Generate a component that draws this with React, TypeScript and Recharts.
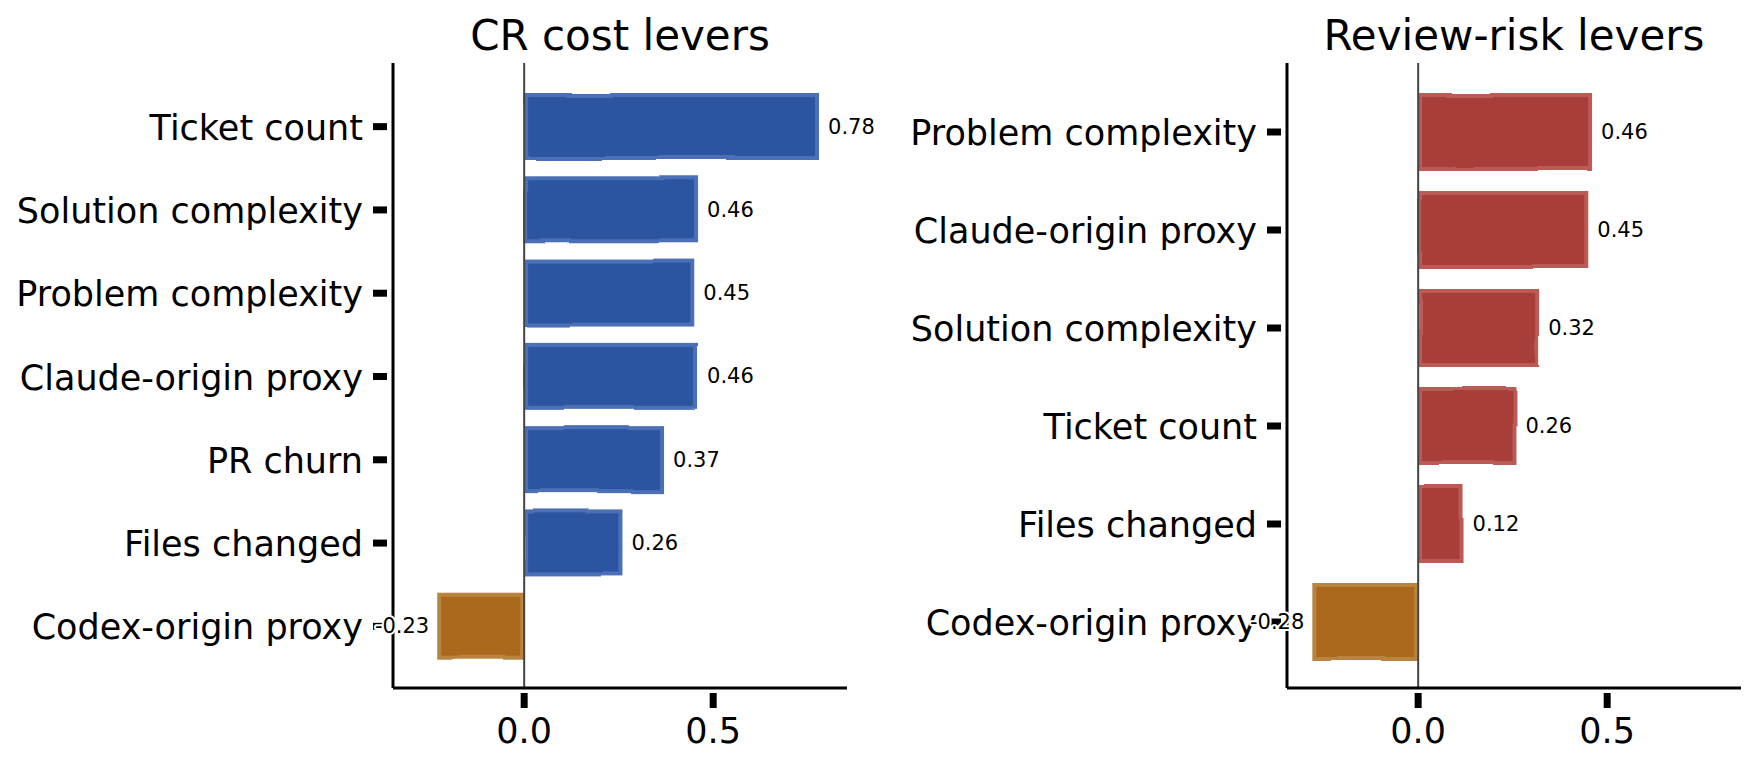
import { BarChart, Bar, XAxis, YAxis, ReferenceLine, LabelList, Cell } from 'recharts';

// Two horizontal bar panels: effect size of each lever (xkcd-like look)

const costLevers = [
  'Ticket count',
  'Solution complexity',
  'Problem complexity',
  'Claude-origin proxy',
  'PR churn',
  'Files changed',
  'Codex-origin proxy',
];
const costValues = [0.78, 0.46, 0.45, 0.46, 0.37, 0.26, -0.23];

const riskLevers = [
  'Problem complexity',
  'Claude-origin proxy',
  'Solution complexity',
  'Ticket count',
  'Files changed',
  'Codex-origin proxy',
];
const riskValues = [0.46, 0.45, 0.32, 0.26, 0.12, -0.28];

const xTicks = [0, 0.5];
const xDomain = [-0.347, 0.854];

const FONT = '"DejaVu Sans", Verdana, sans-serif';
const NEG = '#A9681C';
const NEG_EDGE = '#B9843F';

// white halo round every text, like matplotlib's xkcd mode
const halo = { stroke: '#fff', strokeWidth: 4, paintOrder: 'stroke' as const, strokeLinejoin: 'round' as const };

function YTick({ x, y, payload }: any) {
  return (
    <g>
      <line x1={x - 20} x2={x - 6} y1={y} y2={y} stroke="#000" strokeWidth={7} />
      <text x={x - 30} y={y} dy={13} textAnchor="end" fontSize={35} fontFamily={FONT} fill="#000" {...halo}>
        {payload.value}
      </text>
    </g>
  );
}

function XTick({ x, y, payload }: any) {
  return (
    <g>
      <line x1={x} x2={x} y1={y + 5} y2={y + 20} stroke="#000" strokeWidth={7} />
      <text x={x} y={y + 55} textAnchor="middle" fontSize={35} fontFamily={FONT} fill="#000" {...halo}>
        {Number(payload.value).toFixed(1)}
      </text>
    </g>
  );
}

function ValueLabel({ x, y, width, height, value }: any) {
  const left = Math.min(x, x + width);
  const right = Math.max(x, x + width);
  const neg = value < 0;
  return (
    <text
      x={neg ? left - 8 : right + 9}
      y={y + height / 2}
      dy={7}
      textAnchor={neg ? 'end' : 'start'}
      fontSize={21}
      fontFamily={FONT}
      fill="#000"
      {...halo}
    >
      {value.toFixed(2)}
    </text>
  );
}

interface PanelProps {
  id: string;
  title: string;
  names: string[];
  values: number[];
  color: string;
  edge: string;
  left: number;
  width: number;
  axisWidth: number;
  marginRight: number;
  padTop: number;
  padBottom: number;
  barSize: number;
}

function Panel(p: PanelProps) {
  const data = p.names.map((name, i) => ({ name, value: p.values[i] }));
  const plotW = p.width - p.axisWidth - p.marginRight;

  const BarShape = (props: any) => {
    const { x, y, width, height, payload } = props;
    const neg = payload.value < 0;
    const bx = Math.min(x, x + width);
    const bw = Math.abs(width);
    return (
      <rect
        x={bx + 2}
        y={y + 2}
        width={Math.max(bw - 4, 0)}
        height={height - 4}
        fill={neg ? NEG : p.color}
        stroke={neg ? NEG_EDGE : p.edge}
        strokeWidth={4}
        filter={`url(#wob-${p.id})`}
      />
    );
  };

  return (
    <div style={{ position: 'absolute', left: p.left, top: 0 }}>
      <BarChart
        width={p.width}
        height={770}
        data={data}
        layout="vertical"
        margin={{ top: 63, right: p.marginRight, bottom: 22, left: 0 }}
      >
        <defs>
          <filter id={`wob-${p.id}`} filterUnits="userSpaceOnUse" x={0} y={0} width={p.width} height={770}
            colorInterpolationFilters="sRGB">
            <feTurbulence type="fractalNoise" baseFrequency="0.011" numOctaves={1} seed={5} result="n" />
            <feDisplacementMap in="SourceGraphic" in2="n" scale={4} xChannelSelector="R" yChannelSelector="G" />
          </filter>
        </defs>
        <text
          x={p.axisWidth + plotW / 2}
          y={50}
          textAnchor="middle"
          fontSize={42}
          fontFamily={FONT}
          fill="#000"
        >
          {p.title}
        </text>
        <XAxis
          type="number"
          domain={xDomain}
          ticks={xTicks}
          allowDataOverflow
          height={60}
          tickSize={0}
          tickMargin={0}
          tickLine={false}
          tick={<XTick />}
          axisLine={{ stroke: '#000', strokeWidth: 3 }}
        />
        <YAxis
          type="category"
          dataKey="name"
          width={p.axisWidth}
          padding={{ top: p.padTop, bottom: p.padBottom }}
          tickSize={0}
          tickMargin={0}
          tickLine={false}
          interval={0}
          tick={<YTick />}
          axisLine={{ stroke: '#000', strokeWidth: 3 }}
        />
        <ReferenceLine x={0} stroke="#444" strokeWidth={2} />
        <Bar dataKey="value" barSize={p.barSize} shape={BarShape} isAnimationActive={false}>
          {data.map((d) => (
            <Cell key={d.name} fill={d.value < 0 ? NEG : p.color} />
          ))}
          <LabelList dataKey="value" content={<ValueLabel />} />
        </Bar>
      </BarChart>
    </div>
  );
}

export default function App() {
  return (
    <div style={{ position: 'absolute', left: 0, top: 0, width: 1757, height: 770, background: '#fff' }}>
      <Panel
        id="cost"
        title="CR cost levers"
        names={costLevers}
        values={costValues}
        color="#2B55A1"
        edge="#4C70B6"
        left={0}
        width={880}
        axisWidth={393}
        marginRight={33}
        padTop={22}
        padBottom={20}
        barSize={67}
      />
      <Panel
        id="risk"
        title="Review-risk levers"
        names={riskLevers}
        values={riskValues}
        color="#A83E3A"
        edge="#BA5B56"
        left={880}
        width={877}
        axisWidth={407}
        marginRight={16}
        padTop={20}
        padBottom={17}
        barSize={78}
      />
    </div>
  );
}
